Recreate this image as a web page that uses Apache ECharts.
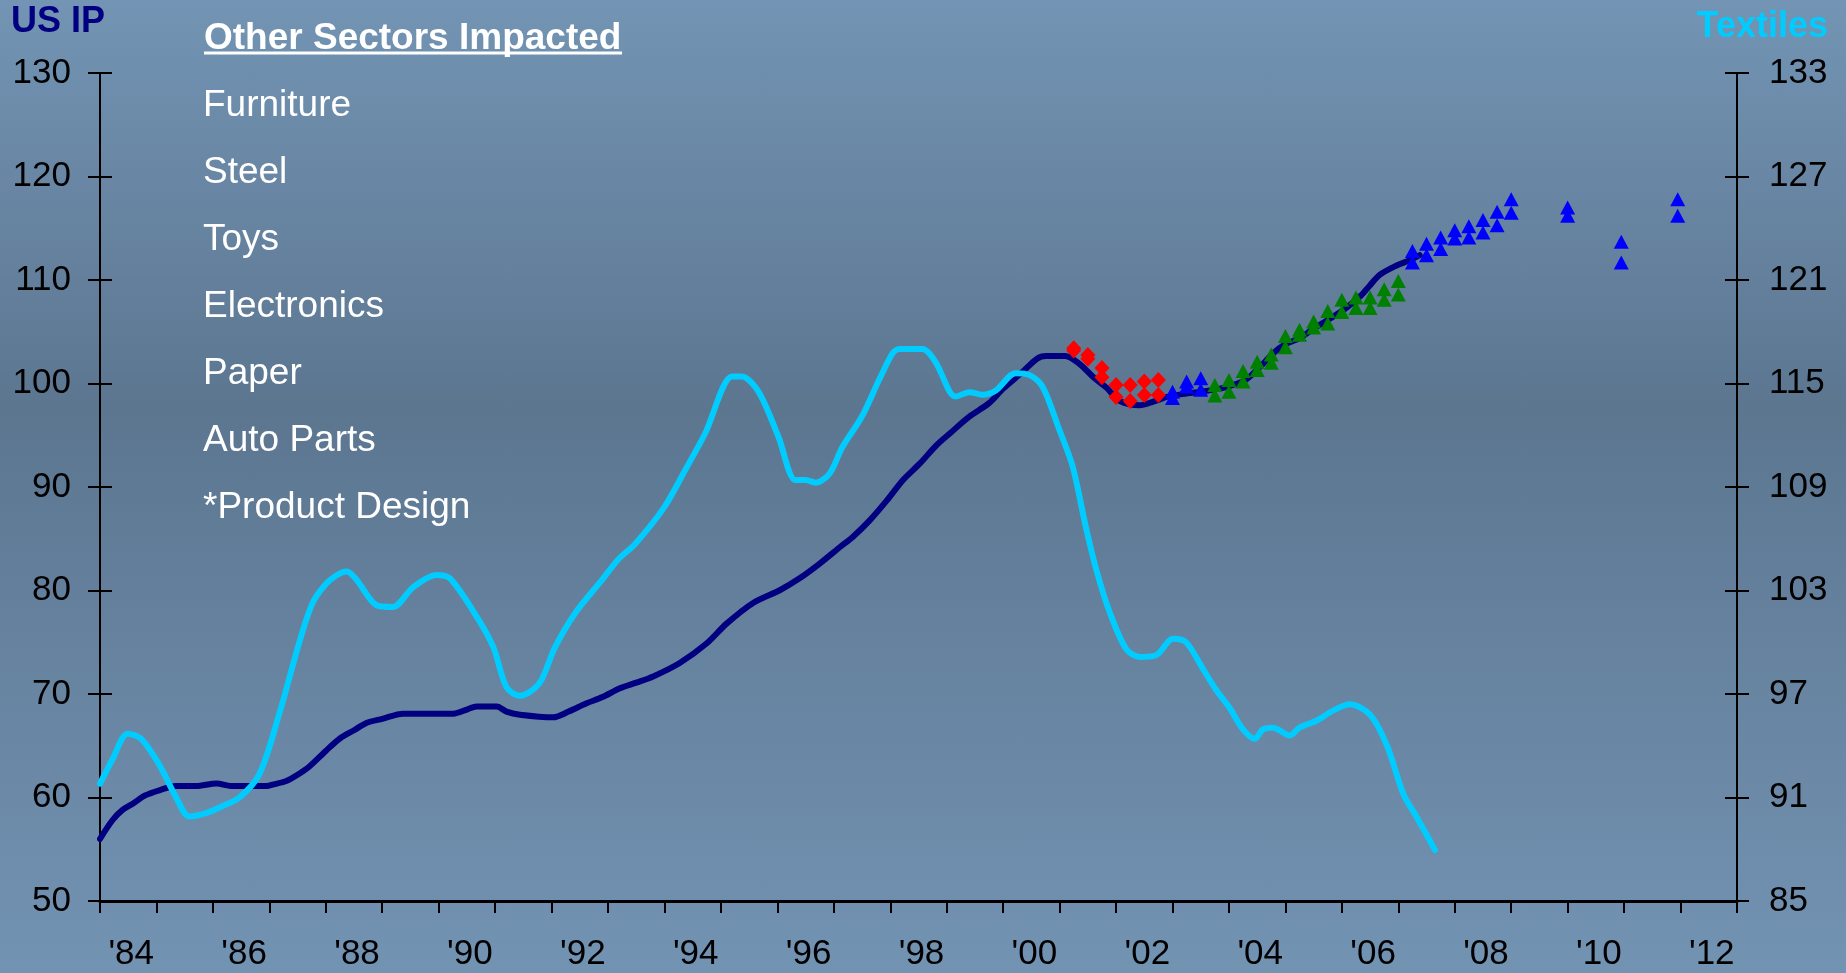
<!DOCTYPE html>
<html><head><meta charset="utf-8">
<script src="https://cdn.jsdelivr.net/npm/echarts@6/dist/echarts.min.js"></script>
<style>
html,body{margin:0;padding:0;}
#c{width:1846px;height:973px;background:linear-gradient(to bottom,#7394b4 0%,#5c7690 42%,#7393b3 100%);}
</style>
</head><body><div id="c"></div>
<script>
// ---- tick labels ----
const yearLabels = ["'84","'85","'86","'87","'88","'89","'90","'91","'92","'93","'94","'95","'96","'97","'98","'99","'00","'01","'02","'03","'04","'05","'06","'07","'08","'09","'10","'11","'12"];
const sectors = ["Furniture","Steel","Toys","Electronics","Paper","Auto Parts","*Product Design"];

// ---- US IP (left axis) ----
const ipYears = [1984.0,1984.22,1984.4,1984.58,1984.8,1985.05,1985.35,1985.7,1986.06,1986.35,1986.7,1986.94,1987.1,1987.3,1987.5,1987.71,1988.0,1988.25,1988.5,1988.72,1989.0,1989.37,1989.8,1990.26,1990.5,1990.67,1991.03,1991.2,1991.44,1992.03,1992.3,1992.62,1992.9,1993.21,1993.5,1993.8,1994.27,1994.75,1995.1,1995.57,1996.05,1996.4,1996.75,1997.11,1997.34,1997.64,1997.94,1998.23,1998.53,1998.82,1999.06,1999.4,1999.75,2000.0,2000.34,2000.6,2000.76,2001.1,2001.35,2001.6,2001.83,2002.07,2002.42,2002.66,2002.9,2003.2,2003.5,2003.84,2004.1,2004.31,2004.55,2004.78,2005.0,2005.26,2005.5,2005.8,2006.05,2006.32,2006.5,2006.67,2006.97,2007.2,2007.38];
const ipValues = [56.0,57.8,58.8,59.4,60.2,60.7,61.1,61.1,61.35,61.1,61.1,61.1,61.3,61.6,62.2,63.0,64.5,65.7,66.5,67.2,67.6,68.1,68.1,68.1,68.5,68.8,68.8,68.3,68.0,67.75,68.3,69.1,69.7,70.55,71.1,71.7,73.0,74.9,76.8,78.8,80.05,81.2,82.6,84.2,85.2,86.8,88.7,90.7,92.3,94.05,95.2,96.8,98.1,99.5,101.1,102.4,102.65,102.65,101.9,100.6,99.6,98.3,97.9,98.25,98.7,99.0,99.2,99.5,99.9,100.4,101.6,102.9,103.8,104.4,105.3,106.3,107.2,108.4,109.5,110.5,111.4,111.9,112.4];

// ---- Textiles (right axis) ----
const texYears = [1984.0,1984.22,1984.49,1984.73,1985.05,1985.35,1985.58,1985.88,1986.1,1986.47,1986.83,1987.18,1987.54,1987.77,1988.01,1988.2,1988.37,1988.55,1988.9,1989.19,1989.55,1989.96,1990.2,1990.67,1990.97,1991.2,1991.44,1991.65,1991.82,1992.06,1992.42,1992.89,1993.18,1993.48,1994.0,1994.37,1994.72,1995.2,1995.37,1995.67,1996.02,1996.32,1996.5,1996.68,1996.93,1997.15,1997.5,1997.8,1998.04,1998.16,1998.57,1998.81,1999.04,1999.16,1999.4,1999.63,1999.87,2000.22,2000.46,2000.7,2000.99,2001.23,2001.47,2001.65,2001.88,2002.18,2002.42,2002.71,2003.01,2003.24,2003.54,2003.78,2004.01,2004.25,2004.46,2004.6,2004.78,2005.08,2005.25,2005.55,2005.85,2006.14,2006.5,2006.8,2007.09,2007.32,2007.65];
const texValues = [91.8,93.2,94.7,94.4,92.9,91.0,89.9,90.1,90.4,91.0,92.4,95.9,100.1,102.3,103.4,103.9,104.1,103.6,102.15,102.05,103.2,103.9,103.7,101.5,99.7,97.4,96.9,97.2,97.8,99.7,101.7,103.6,104.8,105.7,107.85,110.0,112.1,115.4,115.4,114.5,111.9,109.4,109.4,109.25,109.8,111.3,113.1,115.2,116.75,117.0,117.0,116.2,114.6,114.25,114.5,114.35,114.6,115.6,115.5,114.8,112.36,110.2,106.6,104.2,101.8,99.6,99.15,99.25,100.2,100.0,98.45,97.2,96.2,94.95,94.4,94.95,95.05,94.6,95.05,95.45,96.05,96.4,95.8,94.0,91.2,89.9,87.95];

// ---- forecast markers (left axis) ----
const redX  = [2001.25,2001.5,2001.75,2002.0,2002.25,2002.5,2002.75];
const redHi = [103.4,102.75,101.5,99.85,99.85,100.2,100.35];
const redLo = [103.2,102.4,100.6,98.7,98.3,98.9,98.9];
const blueX  = [2003.0,2003.25,2003.5,2007.25,2007.5,2007.75,2008.0,2008.25,2008.5,2008.75,2009.0,2010.0,2010.95,2011.95];
const blueHi = [99.2,100.2,100.5,112.8,113.5,114.1,114.8,115.2,115.8,116.6,117.8,117.0,113.7,117.8];
const blueLo = [98.6,99.7,99.4,111.7,112.4,113.0,114.0,114.1,114.6,115.3,116.5,116.2,111.7,116.2];
const greenX  = [2003.75,2004.0,2004.25,2004.5,2004.75,2005.0,2005.25,2005.5,2005.75,2006.0,2006.25,2006.5,2006.75,2007.0];
const greenHi = [99.85,100.35,101.2,102.1,102.8,104.6,105.2,106.0,107.0,108.1,108.3,108.3,109.1,109.9];
const greenLo = [98.85,99.2,100.2,101.3,102.0,103.5,104.7,105.4,105.8,106.9,107.3,107.3,108.1,108.6];

const zip = (xs, ys) => xs.map((x, i) => [x, ys[i]]);
const FONT = "'Liberation Sans', Arial, sans-serif";

const chart = echarts.init(document.getElementById('c'), null, {renderer: 'canvas'});

const axisLine = {show: true, lineStyle: {color: '#000', width: 2}};
const tickStyle = {color: '#000', width: 2};

function markerSeries(xs, ys, symbol, color, size) {
  return {type: 'scatter', xAxisIndex: 1, yAxisIndex: 0, symbol: symbol, symbolSize: size,
    itemStyle: {color: color, opacity: 1}, z: 5, data: zip(xs, ys), silent: true};
}

const option = {
  backgroundColor: 'transparent',
  animation: false,
  grid: {left: 100, right: 109, top: 73, bottom: 72, containLabel: false},
  xAxis: [
    {type: 'category', data: yearLabels, boundaryGap: true, position: 'bottom',
     axisLine: {show: true, lineStyle: {color: '#000', width: 3}},
     axisTick: {show: true, length: 12, interval: 0, alignWithLabel: false, lineStyle: tickStyle},
     axisLabel: {interval: 1, color: '#000', fontSize: 35, fontFamily: FONT, margin: 36, padding: [0, 0, 0, 6]},
     splitLine: {show: false}},
    {type: 'value', min: 1984, max: 2013, show: false, splitLine: {show: false}}
  ],
  yAxis: [
    {type: 'value', position: 'left', offset: 0, min: 50, max: 130, interval: 10,
     axisLine: axisLine, axisTick: {show: true, length: 12, lineStyle: tickStyle},
     axisLabel: {color: '#000', fontSize: 35, fontFamily: FONT, margin: 29}, splitLine: {show: false}},
    {type: 'value', position: 'left', offset: 0, min: 50, max: 130, interval: 10,
     axisLine: {show: false}, axisTick: {show: true, inside: true, length: 12, lineStyle: tickStyle},
     axisLabel: {show: false}, splitLine: {show: false}},
    {type: 'value', position: 'right', offset: 0, min: 85, max: 133, interval: 6,
     axisLine: axisLine, axisTick: {show: true, length: 12, lineStyle: tickStyle},
     axisLabel: {color: '#000', fontSize: 35, fontFamily: FONT, margin: 32}, splitLine: {show: false}},
    {type: 'value', position: 'right', offset: 0, min: 85, max: 133, interval: 6,
     axisLine: {show: false}, axisTick: {show: true, inside: true, length: 12, lineStyle: tickStyle},
     axisLabel: {show: false}, splitLine: {show: false}}
  ],
  series: [
    {name: 'US IP', type: 'line', xAxisIndex: 1, yAxisIndex: 0, showSymbol: false, smooth: 0.3,
     lineStyle: {color: '#000080', width: 6, cap: 'round', join: 'round'}, z: 2, data: zip(ipYears, ipValues)},
    {name: 'Textiles', type: 'line', xAxisIndex: 1, yAxisIndex: 2, showSymbol: false, smooth: 0.3,
     lineStyle: {color: '#00ccff', width: 6, cap: 'round', join: 'round'}, z: 3, data: zip(texYears, texValues)},
    markerSeries(redX, redLo, 'diamond', '#ff0000', [15, 16]),
    markerSeries(redX, redHi, 'diamond', '#ff0000', [15, 16]),
    markerSeries(blueX, blueLo, 'triangle', '#0000ff', [15, 14]),
    markerSeries(blueX, blueHi, 'triangle', '#0000ff', [15, 14]),
    markerSeries(greenX, greenLo, 'triangle', '#008000', [15, 14]),
    markerSeries(greenX, greenHi, 'triangle', '#008000', [15, 14])
  ],
  graphic: [
    {type: 'text', left: 11, top: 4, style: {text: 'US IP', fill: '#000080', font: 'bold 36px ' + FONT}},
    {type: 'text', right: 18, top: 9, style: {text: 'Textiles', fill: '#00ccff', font: 'bold 36px ' + FONT}},
    {type: 'text', left: 204, top: 20, style: {text: 'Other Sectors Impacted', fill: '#ffffff', font: 'bold 37px ' + FONT}},
    {type: 'line', shape: {x1: 204, y1: 53, x2: 622, y2: 53}, style: {stroke: '#ffffff', lineWidth: 3}}
  ].concat(sectors.map((s, i) => ({
    type: 'text', left: 203, top: 87 + i * 67,
    style: {text: s, fill: '#ffffff', font: '37px ' + FONT}
  })))
};
chart.setOption(option);
</script></body></html>
